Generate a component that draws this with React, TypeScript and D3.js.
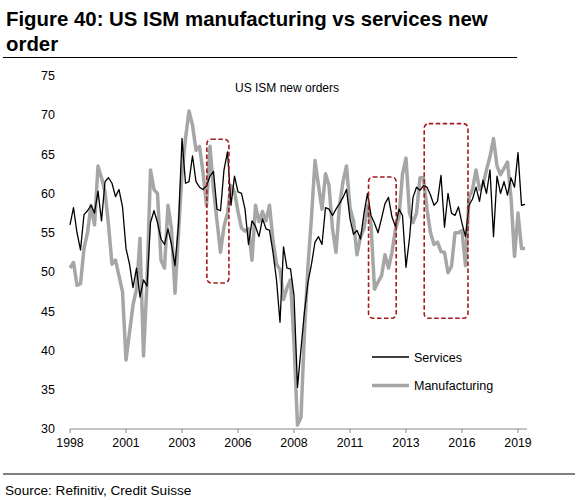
import React from 'react';
import * as d3 from 'd3';

// roughly two-month steps, Jan 1998 .. Mar 2019
const services = [
  56, 58.2, 55, 52.8, 57.3, 57.8, 58.5, 57.5, 60.3, 56.5,
  61.5, 62, 61.3, 59.6, 60.5, 58.3, 53, 51, 48, 50.5,
  46.8, 49, 48.2, 56.3, 57.8, 56.3, 54.2, 53.5, 55.5, 53.5,
  50.8, 56, 67, 61.3, 61.5, 64.8, 61.5, 60.8, 60.5, 61,
  62.2, 62.8, 58, 57.8, 63, 65.3, 58.5, 62.2, 60.2, 60,
  58, 53.5, 56.5, 55.8, 54.5, 56.8, 55.5, 55.3, 52.5, 49,
  43.6, 53.2, 50.5, 50.4, 47, 35.3, 40.2, 45, 48.7, 51,
  53.8, 54.5, 53.5, 58.2, 58, 57.2, 58, 58.7, 59.5, 60.5,
  56.8, 54.8, 55.3, 54.2, 57.5, 60, 57.2, 56.2, 55, 56.8,
  58.7, 59.5, 57, 55.8, 58, 57.2, 50.6, 54.3, 59.5, 60.8,
  60.4, 61, 60.8, 59.8, 58.5, 59, 62.3, 55.7, 60, 57.5,
  57.2, 58.3, 56.2, 54.5, 58.5, 59.3, 60.8, 59, 61.7, 60,
  63, 54.5, 62.2, 60, 61.5, 59.8, 62, 60.8, 65.2, 58.5,
  58.6,
];

const manufacturing = [
  50.5, 51.2, 48.3, 48.5, 53, 55, 58.5, 56, 63.5, 62,
  60.2, 56, 51, 51.5, 49.5, 47.5, 38.8, 42.3, 45.8, 47.8,
  54.3, 39.3, 48.7, 63, 60.5, 60, 51.5, 50.5, 58.5, 55.5,
  47.3, 55, 62.5, 67, 70.5, 68.7, 65.5, 66, 62.7, 58.5,
  66, 60.5, 56.5, 52.5, 55.8, 57.5, 61, 60.2, 57.7, 55.6,
  55.2, 55.5, 51.5, 58.5, 56.4, 57.7, 56.5, 58.5, 54, 51,
  50.3, 46.5, 48, 49, 41, 30.5, 31.5, 42.5, 50.8, 57,
  64.2, 61, 58, 62.5, 61, 55.5, 52.5, 58.5, 61.5, 63.5,
  58.2, 56.5, 52.2, 54.5, 55.5, 58.5, 56, 47.8, 48.7, 49.5,
  52.2, 50.5, 52.5, 55.5, 57, 62.5, 64.5, 57.5, 56.3, 57.5,
  62, 62, 58, 55, 53.5, 53.8, 52.6, 52.5, 49.9, 50.7,
  55, 55, 55.3, 50.8, 59.5, 60.5, 63, 60.5, 61.1, 63,
  64.7, 67, 63.5, 62.4, 63.2, 64, 59.5, 52, 57.5, 53,
  53,
];

const yTicks = [30, 35, 40, 45, 50, 55, 60, 65, 70, 75];
const xTickLabels = ['1998', '2001', '2003', '2006', '2008', '2011', '2013', '2016', '2019'];
const xTickStep = 16;

// highlighted periods: [from index, to index, top value, bottom value]
const boxes = [
  [39.1, 45.4, 66.9, 48.6],
  [85.3, 93.2, 62.1, 44.1],
  [101.2, 113.7, 68.9, 44.1],
];

const FONT = '"Liberation Sans", Arial, sans-serif';

export default function App() {
  const x = d3.scaleLinear().domain([0, services.length - 1]).range([70, 525]);
  const y = d3.scaleLinear().domain([30, 75]).range([429, 75.7]);

  const line = d3.line<number>()
    .x((d, i) => x(i))
    .y(d => y(d));

  return (
    <svg width={581} height={500} style={{ position: 'absolute', left: 0, top: 0, background: '#fff' }}
      fontFamily={FONT}>
      <text x={6} fontSize={20.4} fontWeight="bold" fill="#000">
        <tspan x={6} y={26}>Figure 40: US ISM manufacturing vs services new</tspan>
        <tspan x={6} y={51}>order</tspan>
      </text>
      <line x1={3} x2={517} y1={57.5} y2={57.5} stroke="#000" strokeWidth={1.2} />

      <text x={235} y={92} fontSize={12} fill="#000">US ISM new orders</text>

      {yTicks.map(t => (
        <text key={t} x={55} y={y(t)} dy="0.35em" textAnchor="end" fontSize={12.5} fill="#000">{t}</text>
      ))}

      <line x1={70} x2={527} y1={y(30)} y2={y(30)} stroke="#888" strokeWidth={1} />
      {xTickLabels.map((lab, k) => (
        <g key={lab} transform={`translate(${x(k * xTickStep)},${y(30)})`}>
          <line y1={0} y2={4} stroke="#888" />
          <text y={18} textAnchor="middle" fontSize={12.3} fill="#000">{lab}</text>
        </g>
      ))}

      <path d={line(manufacturing) || ''} fill="none" stroke="#a6a6a6" strokeWidth={3.5} strokeLinejoin="round" />
      <path d={line(services) || ''} fill="none" stroke="#000" strokeWidth={1.3} strokeLinejoin="round" />

      {boxes.map((b, k) => (
        <rect key={k} x={x(b[0])} y={y(b[2])} width={x(b[1]) - x(b[0])} height={y(b[3]) - y(b[2])}
          rx={4.5} fill="none" stroke="#a31a1f" strokeWidth={1.6} strokeDasharray="4.5 2.5" />
      ))}

      <line x1={372} x2={409} y1={357} y2={357} stroke="#000" strokeWidth={1.3} />
      <text x={414} y={361.5} fontSize={12.5} fill="#000">Services</text>
      <line x1={372} x2={409} y1={385.5} y2={385.5} stroke="#a6a6a6" strokeWidth={3.5} />
      <text x={414} y={390} fontSize={12.5} fill="#000">Manufacturing</text>

      <line x1={3} x2={575} y1={474} y2={474} stroke="#000" strokeWidth={1.2} />
      <text x={5} y={495} fontSize={13.6} fill="#000">Source: Refinitiv, Credit Suisse</text>
    </svg>
  );
}
